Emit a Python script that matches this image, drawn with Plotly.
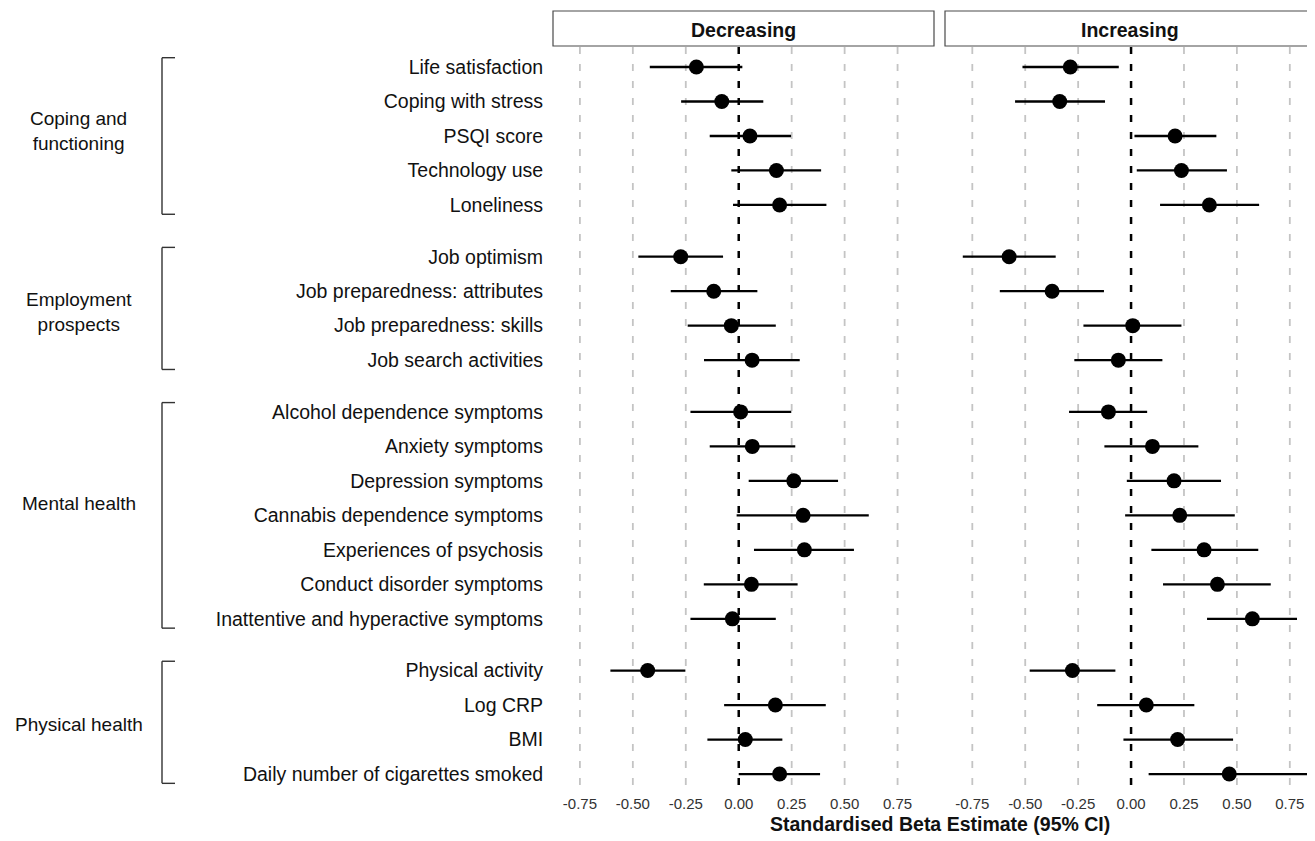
import plotly.graph_objects as go

# ---------------- data ----------------
groups = ["Coping and<br>functioning", "Employment<br>prospects", "Mental health", "Physical health"]
group_sizes = [5, 4, 7, 4]

categories = [
    "Life satisfaction", "Coping with stress", "PSQI score", "Technology use", "Loneliness",
    "Job optimism", "Job preparedness: attributes", "Job preparedness: skills", "Job search activities",
    "Alcohol dependence symptoms", "Anxiety symptoms", "Depression symptoms",
    "Cannabis dependence symptoms", "Experiences of psychosis", "Conduct disorder symptoms",
    "Inattentive and hyperactive symptoms",
    "Physical activity", "Log CRP", "BMI", "Daily number of cigarettes smoked",
]

panels = ["Decreasing", "Increasing"]

dec_est = [-0.20, -0.08, 0.053, 0.178, 0.193,
           -0.274, -0.118, -0.035, 0.063,
           0.009, 0.064, 0.260, 0.304, 0.310, 0.060, -0.030,
           -0.430, 0.173, 0.031, 0.193]
dec_lo = [-0.42, -0.272, -0.137, -0.035, -0.027,
          -0.474, -0.321, -0.241, -0.164,
          -0.228, -0.137, 0.047, -0.010, 0.072, -0.165, -0.228,
          -0.606, -0.069, -0.148, 0.0]
dec_hi = [0.017, 0.116, 0.247, 0.389, 0.414,
          -0.074, 0.088, 0.175, 0.288,
          0.248, 0.267, 0.469, 0.614, 0.544, 0.278, 0.175,
          -0.252, 0.411, 0.206, 0.384]

inc_est = [-0.287, -0.337, 0.208, 0.238, 0.370,
           -0.576, -0.373, 0.008, -0.060,
           -0.107, 0.101, 0.203, 0.230, 0.345, 0.408, 0.573,
           -0.277, 0.072, 0.220, 0.464]
inc_lo = [-0.513, -0.548, 0.016, 0.027, 0.137,
          -0.795, -0.620, -0.225, -0.268,
          -0.293, -0.126, -0.020, -0.028, 0.096, 0.151, 0.359,
          -0.479, -0.160, -0.036, 0.083]
inc_hi = [-0.058, -0.123, 0.403, 0.453, 0.605,
          -0.356, -0.128, 0.238, 0.148,
          0.076, 0.318, 0.425, 0.490, 0.601, 0.660, 0.784,
          -0.074, 0.299, 0.482, 0.842]

x_ticks = [-0.75, -0.50, -0.25, 0.00, 0.25, 0.50, 0.75]
x_tick_labels = ["-0.75", "-0.50", "-0.25", "0.00", "0.25", "0.50", "0.75"]
x_title = "Standardised Beta Estimate (95% CI)"

# ---------------- layout helpers ----------------
OFF = 8  # page body margin
W, H = 1315 - OFF, 841 - OFF
def xp(px):
    return (px - OFF) / W
def yp(py):
    return 1 - (py - OFF) / H

FONT = "Liberation Sans, Arial, sans-serif"

# row positions: 1 per item, extra 0.5 gap between groups
ypos = []
group_bounds = []
pos = 0.0
for gi, n in enumerate(group_sizes):
    start = pos
    for k in range(n):
        ypos.append(pos)
        pos += 1.0
    group_bounds.append((start, pos - 1.0))
    pos += 0.5

fig = go.Figure()

for est, lo, hi, xa in [(dec_est, dec_lo, dec_hi, "x"), (inc_est, inc_lo, inc_hi, "x2")]:
    fig.add_trace(go.Scatter(
        x=est, y=ypos, mode="markers", xaxis=xa, yaxis="y",
        marker=dict(size=15, color="black"),
        error_x=dict(type="data", symmetric=False,
                     array=[h - e for h, e in zip(hi, est)],
                     arrayminus=[e - l for e, l in zip(est, lo)],
                     color="black", thickness=2.3, width=0),
        showlegend=False, hoverinfo="skip",
    ))

xax = dict(showgrid=False, zeroline=False, showline=False, ticks="",
           tickvals=x_ticks, ticktext=x_tick_labels,
           tickfont=dict(family=FONT, size=15, color="#333333"))

y_lo, y_hi = ypos[-1] + 0.55, -0.58
fig.update_layout(
    width=W, height=H,
    margin=dict(l=0, r=0, t=0, b=0),
    paper_bgcolor="white", plot_bgcolor="white",
    xaxis=dict(domain=[xp(553), xp(934)], range=[-0.877, 0.922], anchor="y", **xax),
    xaxis2=dict(domain=[xp(945), 1.0], range=[-0.879, 0.869], anchor="y", **xax),
    yaxis=dict(domain=[yp(793), yp(47)], range=[y_lo, y_hi],
               tickvals=ypos, ticktext=categories, showgrid=False, zeroline=False,
               showline=False, ticks="outside", ticklen=5, tickcolor="rgba(0,0,0,0)",
               tickfont=dict(family=FONT, size=19.5, color="#111111"), anchor="x"),
)

shapes = []
# dashed vertical grid lines and zero reference line
for xa in ["x", "x2"]:
    for t in x_ticks:
        if t == 0:
            continue
        shapes.append(dict(type="line", xref=xa, yref="y", x0=t, x1=t, y0=y_hi, y1=y_lo,
                           line=dict(color="#c4c4c4", width=1.8, dash="7px,10px"), layer="below"))
    shapes.append(dict(type="line", xref=xa, yref="y", x0=0, x1=0, y0=y_hi, y1=y_lo,
                       line=dict(color="black", width=2.5, dash="7px,10px"), layer="below"))
# strip boxes
strip_px = [(553, 934), (945, 1314)]
for (a, b) in strip_px:
    shapes.append(dict(type="rect", xref="paper", yref="paper", x0=xp(a), x1=xp(b),
                       y0=yp(46), y1=yp(11), line=dict(color="#4a4a4a", width=1.2),
                       fillcolor="white"))
# group brackets
bx0, bx1 = xp(162), xp(175)
for (s, e) in group_bounds:
    y0, y1 = s - 0.27, e + 0.27
    for (xa0, ya0, xa1, ya1) in [(bx1, y0, bx0, y0), (bx0, y0, bx0, y1), (bx0, y1, bx1, y1)]:
        shapes.append(dict(type="line", xref="paper", yref="y", x0=xa0, y0=ya0, x1=xa1, y1=ya1,
                           line=dict(color="#333333", width=1.4)))
fig.update_layout(shapes=shapes)

annotations = []
for (a, b), name in zip(strip_px, panels):
    annotations.append(dict(text=f"<b>{name}</b>", x=xp((a + b) / 2), y=yp(29.5),
                            xref="paper", yref="paper", showarrow=False,
                            xanchor="center", yanchor="middle",
                            font=dict(family=FONT, size=19.5, color="#111111")))
group_label_py = [131, 311.5, 503, 724]
for g, py in zip(groups, group_label_py):
    annotations.append(dict(text=g, x=xp(78.5), y=yp(py), xref="paper", yref="paper",
                            showarrow=False, align="center", xanchor="center", yanchor="middle",
                            font=dict(family=FONT, size=19, color="#111111")))
annotations.append(dict(text=f"<b>{x_title}</b>", x=xp(940), y=yp(824), xref="paper", yref="paper",
                        showarrow=False, xanchor="center", yanchor="middle",
                        font=dict(family=FONT, size=19.5, color="#111111")))
fig.update_layout(annotations=annotations)

fig.write_html("out.html")
